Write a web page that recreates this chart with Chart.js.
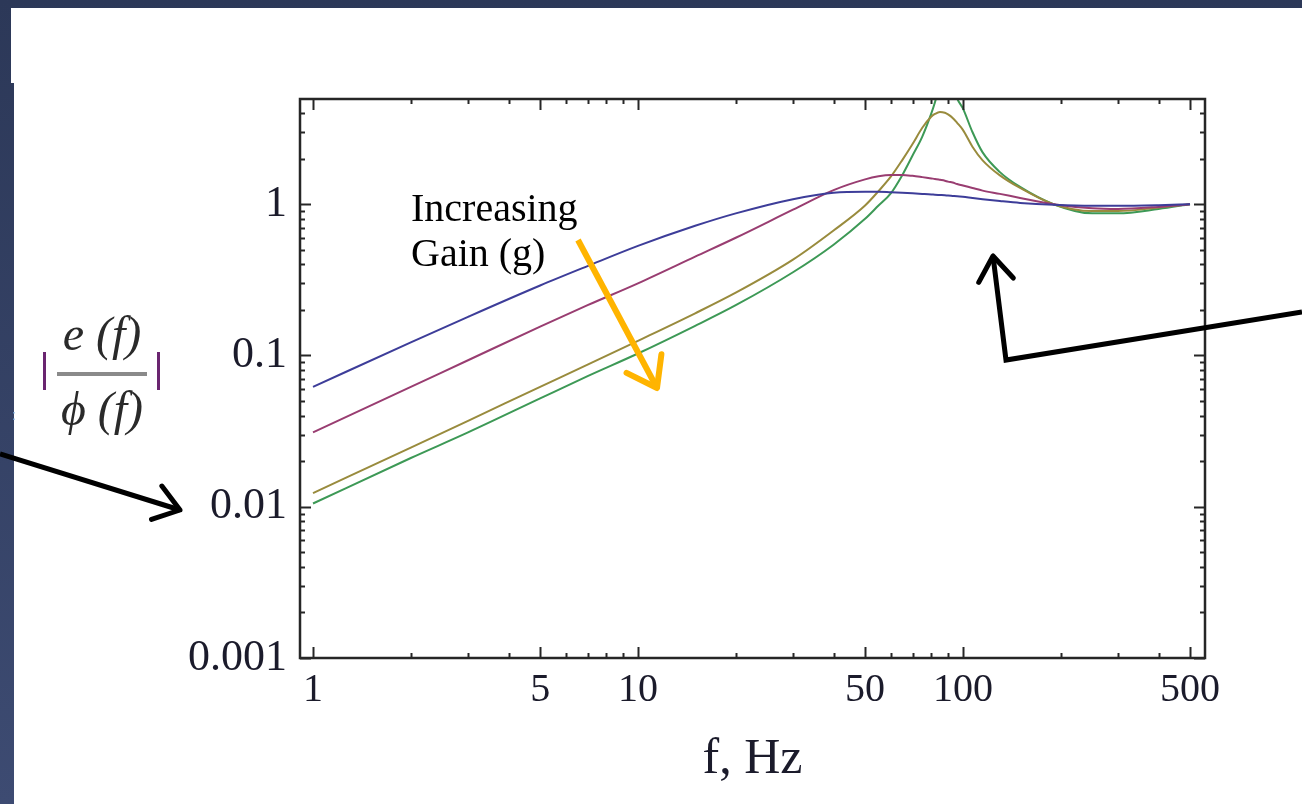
<!DOCTYPE html>
<html><head><meta charset="utf-8">
<script src="https://cdn.jsdelivr.net/npm/chart.js@4.4.1/dist/chart.umd.min.js"></script>
<style>
html,body{margin:0;padding:0;width:1302px;height:804px;overflow:hidden;background:linear-gradient(#2c3858,#3d4b72);}
#w1{position:absolute;left:11px;top:8px;width:1291px;height:75px;background:#fff;}
#w2{position:absolute;left:14px;top:82px;width:1288px;height:722px;background:#fff;}
#c{position:absolute;left:0;top:0;}
</style></head><body>
<div id="w1"></div><div id="w2"></div>
<canvas id="c" width="1302" height="804"></canvas>
<script>
// ---- data ----
const freq    = [1, 2, 3, 5, 7, 10, 15, 20, 30, 40, 50, 55, 60, 65, 70, 75, 80, 82, 85, 88, 90, 93, 96, 100, 107, 115, 130, 150, 190, 250, 300, 400, 500];
const gain1   = [0.062,0.122,0.18,0.29,0.39,0.53,0.72,0.87,1.08,1.19,1.21,1.21,1.2,1.19,1.18,1.17,1.16,1.155,1.15,1.145,1.14,1.135,1.13,1.12,1.1,1.08,1.05,1.02,0.99,0.975,0.975,0.985,1.0];
const gain2   = [0.031,0.062,0.093,0.155,0.215,0.30,0.45,0.60,0.92,1.24,1.46,1.53,1.56,1.56,1.54,1.51,1.48,1.47,1.45,1.43,1.41,1.39,1.36,1.33,1.28,1.23,1.17,1.1,1.0,0.94,0.93,0.96,1.0];
const gain3   = [0.0123,0.0246,0.037,0.062,0.087,0.125,0.19,0.26,0.43,0.67,0.98,1.22,1.52,1.95,2.5,3.2,3.8,3.95,4.07,4.02,3.92,3.72,3.45,3.1,2.4,1.95,1.55,1.28,1.0,0.9,0.9,0.95,1.0];
const gain4   = [0.0105,0.021,0.031,0.052,0.073,0.103,0.157,0.215,0.355,0.54,0.8,0.98,1.18,1.55,2.1,2.8,4.0,4.7,6.3,8.0,7.6,6.2,5.0,4.3,3.0,2.2,1.63,1.3,1.0,0.87,0.87,0.93,1.0];
const seriesColors = ['#3d3d99', '#993d71', '#998b3d', '#3d9956'];
const xTickLabels = [1, 5, 10, 50, 100, 500];
const xMinorTicks = [2,3,4,6,7,8,9,20,30,40,60,70,80,90,200,300,400];
const yTickLabels = [0.001, 0.01, 0.1, 1];
const yMinorTicks = [0.002,0.003,0.004,0.005,0.006,0.007,0.008,0.009,0.02,0.03,0.04,0.05,0.06,0.07,0.08,0.09,0.2,0.3,0.4,0.5,0.6,0.7,0.8,0.9,2,3,4];

const allSeries = [gain1, gain2, gain3, gain4];

const frame = {
  id: 'frame',
  afterDatasetsDraw(chart) {
    const {ctx, chartArea: a, scales: {x, y}} = chart;
    ctx.save();
    ctx.strokeStyle = '#262626';
    ctx.lineWidth = 2.5;
    ctx.strokeRect(a.left, a.top, a.right - a.left, a.bottom - a.top);
    ctx.lineWidth = 2;
    const ln = (x1, y1, x2, y2) => { ctx.beginPath(); ctx.moveTo(x1, y1); ctx.lineTo(x2, y2); ctx.stroke(); };
    const xt = (v, L) => { const p = Math.round(x.getPixelForValue(v)) + 0.5; ln(p, a.bottom, p, a.bottom - L); ln(p, a.top, p, a.top + L); };
    const yt = (v, L) => { const p = Math.round(y.getPixelForValue(v)) + 0.5; ln(a.left, p, a.left + L, p); ln(a.right, p, a.right - L, p); };
    xTickLabels.forEach(v => xt(v, 11));
    xMinorTicks.forEach(v => xt(v, 5));
    yTickLabels.forEach(v => yt(v, 11));
    yMinorTicks.forEach(v => yt(v, 5));
    ctx.restore();
  }
};

function arrow(ctx, pts, color, w, head) {
  ctx.save();
  ctx.strokeStyle = color; ctx.lineWidth = w; ctx.lineCap = 'butt'; ctx.lineJoin = 'miter';
  ctx.beginPath(); ctx.moveTo(pts[0][0], pts[0][1]);
  for (let i = 1; i < pts.length; i++) ctx.lineTo(pts[i][0], pts[i][1]);
  ctx.stroke();
  const [px, py] = pts[pts.length - 2], [tx, ty] = pts[pts.length - 1];
  const ang = Math.atan2(ty - py, tx - px);
  const a1 = ang + Math.PI - 0.62, a2 = ang + Math.PI + 0.62;
  ctx.lineCap = 'round'; ctx.lineJoin = 'round';
  ctx.beginPath();
  ctx.moveTo(tx + head * Math.cos(a1), ty + head * Math.sin(a1));
  ctx.lineTo(tx, ty);
  ctx.lineTo(tx + head * Math.cos(a2), ty + head * Math.sin(a2));
  ctx.stroke();
  ctx.restore();
}

const overlay = {
  id: 'overlay',
  afterDraw(chart) {
    const ctx = chart.ctx;
    ctx.save();
    // y-axis title |e(f)/phi(f)|
    ctx.fillStyle = '#2a2a2a';
    ctx.textAlign = 'center';
    ctx.textBaseline = 'alphabetic';
    ctx.font = 'italic 48px "Liberation Serif"';
    ctx.fillText('e (f)', 102, 350);
    ctx.fillText('\u03d5 (f)', 102, 425);
    ctx.fillStyle = '#8a8a8a';
    ctx.fillRect(57, 372, 90, 4);
    ctx.fillStyle = '#6a2570';
    ctx.fillRect(43, 352, 3, 38);
    ctx.fillRect(157, 352, 3, 38);
    ctx.fillStyle = '#7fb0e0';
    ctx.font = '14px "Liberation Sans"';
    ctx.fillText(':', 14, 420);
    // annotation
    ctx.fillStyle = '#000';
    ctx.textAlign = 'left';
    ctx.font = '40px "Liberation Serif"';
    ctx.fillText('Increasing', 411, 221);
    ctx.fillText('Gain (g)', 411, 266);
    ctx.restore();
    arrow(ctx, [[578, 240], [657, 388]], '#ffb400', 6, 34);
    arrow(ctx, [[0, 454], [180, 510]], '#000', 5, 30);
    arrow(ctx, [[1302, 312], [1006, 360], [993, 256]], '#000', 5, 30);
  }
};

new Chart(document.getElementById('c'), {
  type: 'line',
  data: {
    datasets: allSeries.map((s, i) => ({
      data: freq.map((f, j) => ({x: f, y: s[j]})),
      borderColor: seriesColors[i],
      borderWidth: 2,
      pointRadius: 0,
      cubicInterpolationMode: 'monotone',
      fill: false
    }))
  },
  options: {
    responsive: false,
    animation: false,
    devicePixelRatio: 1,
    layout: {padding: {left: 0, top: 99, right: 97, bottom: 0}},
    plugins: {legend: {display: false}, tooltip: {enabled: false}},
    scales: {
      x: {
        type: 'logarithmic', position: 'bottom', min: 0.912, max: 556,
        afterFit(s) { s.height = 146; },
        afterBuildTicks(s) { s.ticks = xTickLabels.map(v => ({value: v})); },
        grid: {display: false, drawTicks: false},
        border: {display: false},
        ticks: {callback: v => String(v), autoSkip: false, maxRotation: 0,
                font: {family: 'Liberation Serif', size: 40}, color: '#1b1b2b', padding: 8},
        title: {display: true, text: 'f, Hz', color: '#1b1b2b',
                font: {family: 'Liberation Serif', size: 50}, padding: {top: 0, bottom: 14}}
      },
      y: {
        type: 'logarithmic', position: 'left', min: 0.001, max: 4.96,
        afterFit(s) { s.width = 300; },
        afterBuildTicks(s) { s.ticks = yTickLabels.map(v => ({value: v})); },
        grid: {display: false, drawTicks: false},
        border: {display: false},
        ticks: {callback: v => String(v), autoSkip: false,
                font: {family: 'Liberation Serif', size: 44}, color: '#1b1b2b', padding: 13}
      }
    }
  },
  plugins: [frame, overlay]
});
</script>
</body></html>
